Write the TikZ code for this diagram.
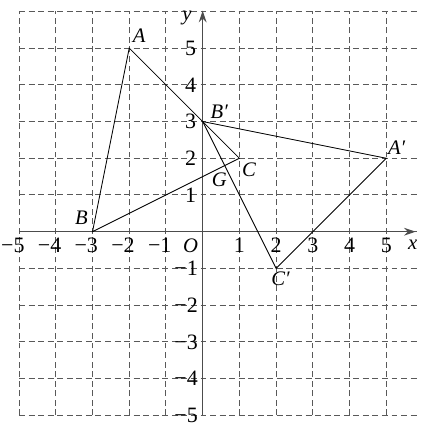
\documentclass[tikz,border=0pt]{standalone}
\usepackage{fontspec}
\setmainfont{Liberation Serif}
\usetikzlibrary{arrows.meta}
\begin{document}
\begin{tikzpicture}[x=1cm,y=1cm,
  gridline/.style={draw=black!65,line width=0.75pt,dash pattern=on 4.6pt off 2.8pt},
  axisline/.style={draw=black!70,line width=1.1pt,-{Stealth[length=9pt,width=6pt]}},
  tri/.style={draw=black,line width=0.65pt},
  lbl/.style={inner sep=0pt,font=\fontsize{16}{16}\selectfont\itshape},
  num/.style={inner sep=0pt,font=\fontsize{17}{17}\selectfont}]
\useasboundingbox (-5.52,-5.21) rectangle (5.92,6.31);
% grid
\foreach \i in {-5,...,6} \draw[gridline] (-5,\i) -- (5.85,\i);
\foreach \i in {-5,...,5} \draw[gridline] (\i,-5) -- (\i,6);
% axes
\coordinate (xs) at (-5,0); \coordinate (xe) at (5.8,0);
\coordinate (ys) at (0,-5); \coordinate (ye) at (0,6.02);
\draw[axisline] (xs) -- (xe);
\draw[axisline] (ys) -- (ye);
\node[lbl] (xl) at (5.72,-0.36) {x};
\node[lbl] (yl) at (-0.43,5.82) {y};
\node[lbl] (O) at (-0.33,-0.37) {O};
% tick labels
\foreach \i in {1,...,5} \node[num] (xn\i) at (\i,-0.37) {\i};
\foreach \i in {1,...,5} \node[num] (xm\i) at (-\i-0.17,-0.37) {−\i};
\foreach \i in {1,...,5} \node[num] (yn\i) at (-0.33,\i) {\i};
\foreach \i in {1,...,5} \node[num] (ym\i) at (-0.45,-\i) {−\i};
% points
\coordinate (A) at (-2,5);
\coordinate (B) at (-3,0);
\coordinate (C) at (1,2);
\coordinate (Bp) at (0,3);
\coordinate (Ap) at (5,2);
\coordinate (Cp) at (2,-1);
\draw[tri] (A) -- (B) -- (C) -- (Bp) -- cycle;
\draw[tri] (Bp) -- (Ap) -- (Cp) -- cycle;
% labels
\node[lbl] (lA) at (-1.73,5.33) {A};
\node[lbl] (lB) at (-3.3,0.37) {B};
\node[lbl] (lC) at (1.26,1.7) {C};
\node[lbl] (lBp) at (0.45,3.27) {B′};
\node[lbl] (lAp) at (5.28,2.3) {A′};
\node[lbl] (lCp) at (2.12,-1.27) {C′};
\node[lbl] (lG) at (0.45,1.41) {G};
\end{tikzpicture}
\end{document}
